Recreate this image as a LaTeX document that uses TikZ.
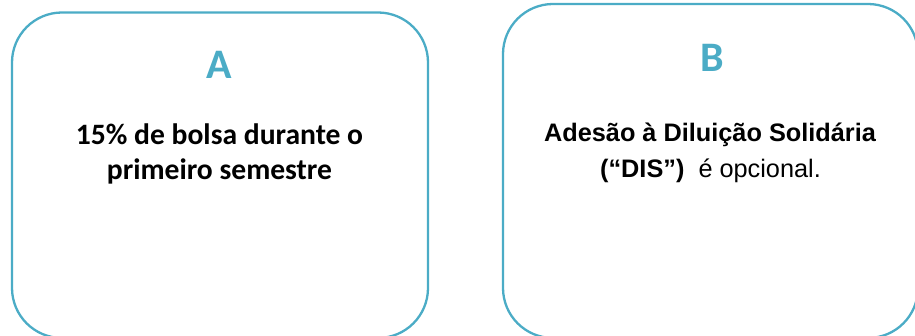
\documentclass[tikz,border=0pt]{standalone}
\usepackage{fontspec}
\setmainfont{Carlito}
\newfontfamily\calfont{Carlito}
\newfontfamily\arialfont{Liberation Sans}
\definecolor{teal1}{HTML}{4BACC6}
\begin{document}
\begin{tikzpicture}[x=1pt,y=-1pt,
  card/.style={draw=teal1,line width=2.3pt,rounded corners=50pt,fill=white,inner sep=0pt},
  letter/.style={anchor=base,text=teal1,font=\calfont\bfseries\fontsize{42}{42}\selectfont,inner sep=0pt},
  atext/.style={anchor=base,font=\calfont\bfseries\fontsize{29.6}{35}\selectfont,inner sep=0pt},
  btext/.style={anchor=base,font=\arialfont\fontsize{25.3}{30}\selectfont,inner sep=0pt}]
\useasboundingbox (0,0) rectangle (915,336);
\node[card,minimum width=416pt,minimum height=325.5pt] (boxA) at (220,175.25) {};
\node[card,minimum width=415pt,minimum height=334pt] (boxB) at (710.5,171) {};
\node[letter] (la) at (219.5,79) {A};
\node[letter] (lb) at (712,72) {B};
\node[atext] (a1) at (219.5,145) {15\% de bolsa durante o};
\node[atext] (a2) at (219.5,180) {primeiro semestre};
\node[btext] (b1) at (710,142) {\bfseries Adesão à Diluição Solidária};
\node[btext] (b2) at (710.5,178) {\textbf{(“DIS”)}\ \ é opcional.};
\end{tikzpicture}
\end{document}
